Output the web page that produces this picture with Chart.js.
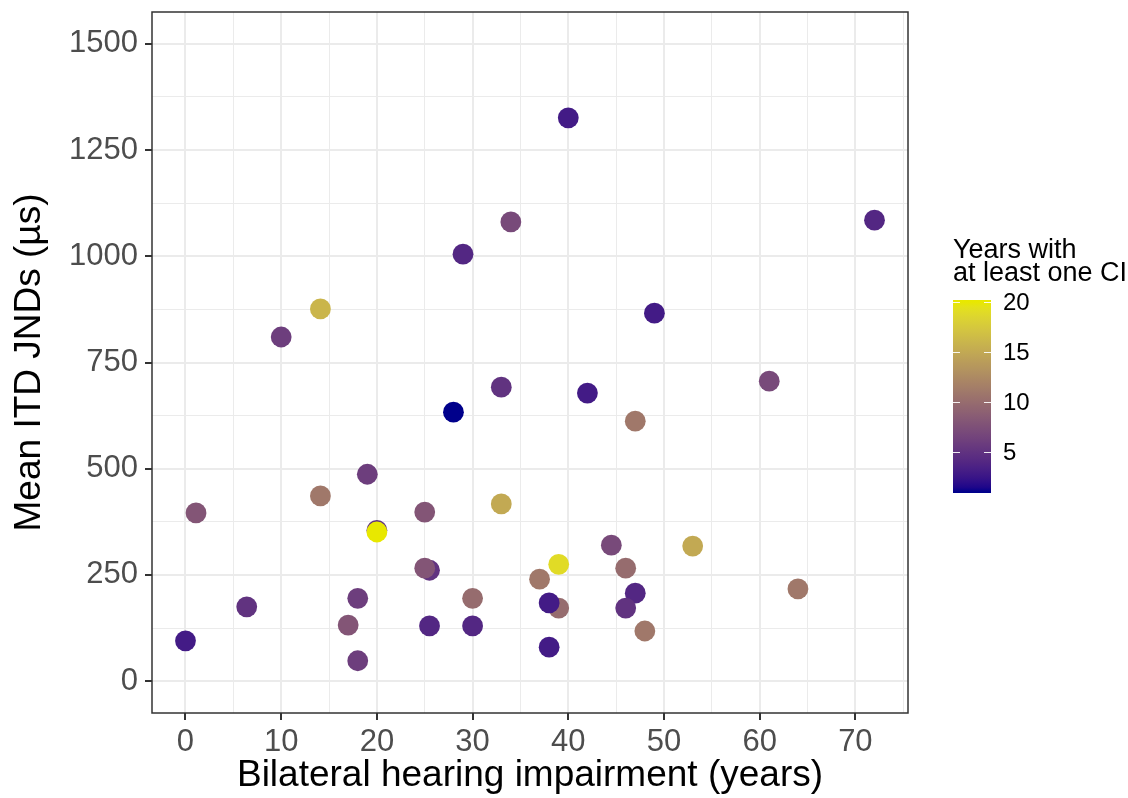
<!DOCTYPE html>
<html>
<head>
<meta charset="utf-8">
<script src="https://cdn.jsdelivr.net/npm/chart.js@4.4.1/dist/chart.umd.min.js"></script>
<style>
  html, body { margin: 0; padding: 0; background: #fff; }
  #wrap { width: 1128px; height: 798px; }
</style>
</head>
<body>
<div id="wrap"><canvas id="c"></canvas></div>
<script>
// one entry per listener: years of bilateral hearing impairment, mean ITD JND (us), years with at least one CI
const impairment = [0, 1.1, 6.4, 10, 14.1, 14.1, 17, 18, 18, 19, 20, 20, 25.5, 25, 25, 25.5, 28, 29, 30, 30,
  33, 33, 34, 37, 39, 38, 38, 39, 40, 42, 44.5, 46, 47, 46, 47, 48, 49, 53, 61, 64, 72];
const itdJnd = [95, 396, 175, 810, 876, 436, 132, 195, 48, 487, 355, 351, 261, 266, 398, 130, 633, 1005, 195, 130,
  692, 417, 1081, 240, 172, 184, 80, 275, 1326, 678, 320, 266, 207, 172, 612, 118, 866, 318, 706, 217, 1085];
const ciYears = [3, 8, 5, 6, 16, 11, 8, 6, 6, 6, 5, 20, 5, 8, 8, 4, 1, 4, 10, 4,
  5, 15, 7, 11, 10, 3, 3, 19, 3, 3, 7, 10, 4, 5, 11, 11, 3, 15, 7, 11, 4];

const xTicks = [0, 10, 20, 30, 40, 50, 60, 70];
const xMinor = [5, 15, 25, 35, 45, 55, 65, 75];
const yTicks = [0, 250, 500, 750, 1000, 1250, 1500];
const yMinor = [125, 375, 625, 875, 1125, 1375];
const legendTicks = [5, 10, 15, 20];
const ciMin = 1, ciMax = 20;

const FONT = "'Liberation Sans', Arial, sans-serif";

// colour ramp interpolated in CIELAB, like ggplot's scale_colour_gradient
function hexToRgb(h) {
  return [parseInt(h.slice(1, 3), 16), parseInt(h.slice(3, 5), 16), parseInt(h.slice(5, 7), 16)];
}
function toLin(c) { c /= 255; return c <= 0.04045 ? c / 12.92 : Math.pow((c + 0.055) / 1.055, 2.4); }
function fromLin(c) { const v = c <= 0.0031308 ? 12.92 * c : 1.055 * Math.pow(c, 1 / 2.4) - 0.055; return Math.max(0, Math.min(255, Math.round(v * 255))); }
const WX = 0.95047, WY = 1, WZ = 1.08883;
function fLab(t) { return t > 0.008856 ? Math.cbrt(t) : 7.787 * t + 16 / 116; }
function fInv(t) { return t > 0.206893 ? t * t * t : (t - 16 / 116) / 7.787; }
function rgbToLab(rgb) {
  const [r, g, b] = rgb.map(toLin);
  const x = (0.4124 * r + 0.3576 * g + 0.1805 * b) / WX;
  const y = (0.2126 * r + 0.7152 * g + 0.0722 * b) / WY;
  const z = (0.0193 * r + 0.1192 * g + 0.9505 * b) / WZ;
  const fx = fLab(x), fy = fLab(y), fz = fLab(z);
  return [116 * fy - 16, 500 * (fx - fy), 200 * (fy - fz)];
}
function labToRgb(lab) {
  const fy = (lab[0] + 16) / 116, fx = fy + lab[1] / 500, fz = fy - lab[2] / 200;
  const x = fInv(fx) * WX, y = fInv(fy) * WY, z = fInv(fz) * WZ;
  const r = 3.2406 * x - 1.5372 * y - 0.4986 * z;
  const g = -0.9689 * x + 1.8758 * y + 0.0415 * z;
  const b = 0.0557 * x - 0.2040 * y + 1.0570 * z;
  return [fromLin(r), fromLin(g), fromLin(b)];
}
const labLow = rgbToLab(hexToRgb('#00008B'));
const labHigh = rgbToLab(hexToRgb('#E8E800'));
function ciColour(v) {
  const t = Math.max(0, Math.min(1, (v - ciMin) / (ciMax - ciMin)));
  const lab = labLow.map((l, i) => l + (labHigh[i] - l) * t);
  const c = labToRgb(lab);
  return 'rgb(' + c.join(',') + ')';
}

const points = impairment.map((x, i) => ({ x: x, y: itdJnd[i] }));
const pointColours = ciYears.map(ciColour);

const panelAndLegend = {
  id: 'panelAndLegend',
  afterDraw(chart) {
    const ctx = chart.ctx;
    const a = chart.chartArea;
    ctx.save();
    ctx.strokeStyle = '#333333';
    ctx.lineWidth = 1.5;
    ctx.strokeRect(a.left, a.top, a.right - a.left, a.bottom - a.top);

    // colour bar legend
    const bx = 953, bw = 38, yTop = 300, yBot = 493;
    const yOf = v => 302 + (20 - v) * 10;
    const grad = ctx.createLinearGradient(0, yBot, 0, yTop);
    for (let k = 0; k <= 40; k++) {
      const v = ciMin + (ciMax - ciMin) * k / 40;
      grad.addColorStop(Math.max(0, Math.min(1, (yBot - yOf(v)) / (yBot - yTop))), ciColour(v));
    }
    ctx.fillStyle = grad;
    ctx.fillRect(bx, yTop, bw, yBot - yTop);
    ctx.strokeStyle = 'rgba(255,255,255,0.9)';
    ctx.lineWidth = 1;
    ctx.fillStyle = '#000';
    ctx.font = '24px ' + FONT;
    ctx.textAlign = 'left';
    ctx.textBaseline = 'middle';
    legendTicks.forEach(v => {
      const y = Math.round(yOf(v)) + 0.5;
      ctx.beginPath();
      ctx.moveTo(bx, y); ctx.lineTo(bx + 7, y);
      ctx.moveTo(bx + bw - 7, y); ctx.lineTo(bx + bw, y);
      ctx.stroke();
      ctx.fillText(String(v), 1003, yOf(v) + 1);
    });
    ctx.font = '27px ' + FONT;
    ctx.textBaseline = 'alphabetic';
    ctx.fillText('Years with', 953, 258);
    ctx.fillText('at least one CI', 953, 281);
    ctx.restore();
  }
};

function gridWidth(ctx) { return ctx.tick && ctx.tick.major ? 2 : 1; }

new Chart(document.getElementById('c'), {
  type: 'scatter',
  data: {
    datasets: [{
      data: points,
      backgroundColor: pointColours,
      borderWidth: 0,
      pointRadius: 10.4,
      pointHoverRadius: 10.4
    }]
  },
  options: {
    responsive: true,
    maintainAspectRatio: false,
    animation: false,
    events: [],
    layout: { padding: { left: 0, right: 220, top: 12, bottom: 0 } },
    plugins: { legend: { display: false }, tooltip: { enabled: false } },
    scales: {
      x: {
        type: 'linear',
        min: -3.5,
        max: 75.5,
        afterBuildTicks(scale) {
          scale.ticks = xTicks.map(v => ({ value: v, major: true }))
            .concat(xMinor.map(v => ({ value: v, major: false })));
        },
        afterFit(scale) {
          scale.height = 85;
          scale.paddingLeft = 0;
          scale.paddingRight = 0;
        },
        ticks: {
          autoSkip: false,
          maxRotation: 0,
          padding: 4,
          color: '#4D4D4D',
          font: { family: FONT, size: 31 },
          callback(value) { return xTicks.includes(value) ? String(value) : ''; }
        },
        grid: {
          color: '#EBEBEB',
          lineWidth: gridWidth,
          tickLength: 7,
          tickColor: ctx => (ctx.tick && ctx.tick.major ? '#333333' : 'rgba(0,0,0,0)'),
          tickWidth: 2
        },
        border: { display: false },
        title: {
          display: true,
          text: 'Bilateral hearing impairment (years)',
          color: '#000',
          font: { family: FONT, size: 37 },
          padding: { top: 0, bottom: 0 }
        }
      },
      y: {
        type: 'linear',
        min: -75,
        max: 1575,
        afterBuildTicks(scale) {
          scale.ticks = yTicks.map(v => ({ value: v, major: true }))
            .concat(yMinor.map(v => ({ value: v, major: false })));
        },
        afterFit(scale) {
          scale.width = 152;
          scale.paddingTop = 0;
          scale.paddingBottom = 0;
        },
        ticks: {
          autoSkip: false,
          padding: 7,
          color: '#4D4D4D',
          font: { family: FONT, size: 31 },
          callback(value) { return yTicks.includes(value) ? String(value) : ''; }
        },
        grid: {
          color: '#EBEBEB',
          lineWidth: gridWidth,
          tickLength: 7,
          tickColor: ctx => (ctx.tick && ctx.tick.major ? '#333333' : 'rgba(0,0,0,0)'),
          tickWidth: 2
        },
        border: { display: false },
        title: {
          display: true,
          text: 'Mean ITD JNDs (µs)',
          color: '#000',
          font: { family: FONT, size: 37 },
          padding: { top: 8, bottom: 0 }
        }
      }
    }
  },
  plugins: [panelAndLegend]
});
</script>
</body>
</html>
